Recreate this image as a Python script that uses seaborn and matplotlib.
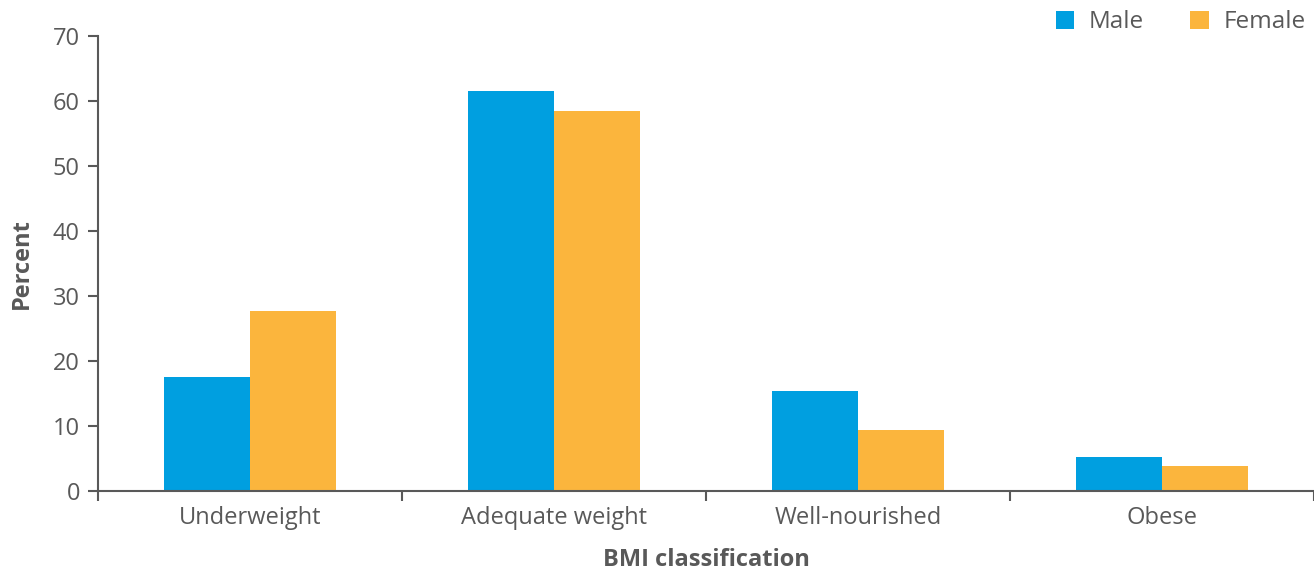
import matplotlib
matplotlib.use("Agg")
import matplotlib.pyplot as plt
import seaborn as sns
import pandas as pd
from matplotlib.patches import Patch

categories = ["Underweight", "Adequate weight", "Well-nourished", "Obese"]
male = [17.5, 61.5, 15.4, 5.2]
female = [27.7, 58.4, 9.4, 3.9]
series = ["Male", "Female"]
colors = {"Male": "#009FE0", "Female": "#FBB53D"}
yticks = [0, 10, 20, 30, 40, 50, 60, 70]

df = pd.DataFrame({
    "cat": categories * 2,
    "val": male + female,
    "sex": ["Male"] * 4 + ["Female"] * 4,
})

sns.set_theme(style="white")
plt.rcParams["font.family"] = ["Open Sans", "DejaVu Sans"]
grey = "#595959"

fig = plt.figure(figsize=(13.14, 5.74), dpi=100)
ax = fig.add_axes([0.0746, 0.1446, 0.9254, 0.7932])
sns.barplot(data=df, x="cat", y="val", hue="sex", order=categories,
            hue_order=series, palette=colors, width=0.565, saturation=1,
            ax=ax, legend=False, linewidth=0)

ax.set_ylim(0, 70)
ax.set_xlim(-0.5, 3.5)
ax.set_yticks(yticks)
ax.set_yticklabels([str(t) for t in yticks])
ax.set_xticks([-0.5, 0.5, 1.5, 2.5, 3.5])
ax.set_xticklabels([])
ax.set_xticks(range(len(categories)), minor=True)
ax.set_xticklabels(categories, minor=True)
ax.tick_params(axis="x", which="major", length=7, width=1.5, color=grey, direction="out", bottom=True)
ax.tick_params(axis="x", which="minor", length=0, labelsize=17, labelcolor=grey, pad=11)
ax.tick_params(axis="y", length=7, width=1.5, color=grey, direction="out", left=True, labelsize=17, labelcolor=grey, pad=6)

for s in ["top", "right"]:
    ax.spines[s].set_visible(False)
for s in ["left", "bottom"]:
    ax.spines[s].set_color(grey)
    ax.spines[s].set_linewidth(1.5)

ax.set_xlabel("BMI classification", fontsize=17, fontweight="bold", color=grey, labelpad=13)
ax.set_ylabel("Percent", fontsize=17, fontweight="bold", color=grey, labelpad=14)

handles = [Patch(facecolor=colors[s], edgecolor="none", label=s) for s in series]
fig.legend(handles=handles, loc="upper right", bbox_to_anchor=(1.01, 1.02), ncol=2,
           frameon=False, fontsize=17.5, labelcolor=grey, handlelength=0.75, handleheight=0.75,
           columnspacing=1.9, handletextpad=0.6)

fig.savefig("out.png", dpi=100)
